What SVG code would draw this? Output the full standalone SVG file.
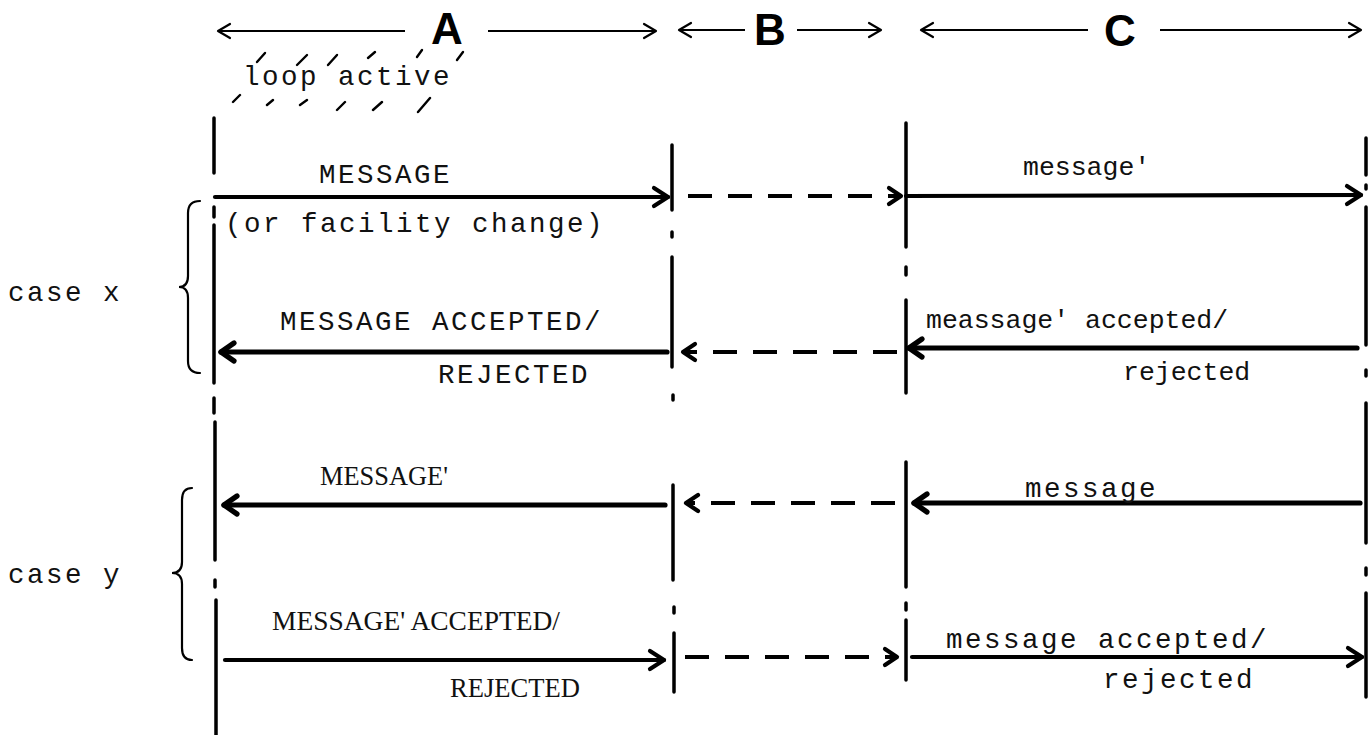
<svg xmlns="http://www.w3.org/2000/svg" width="1370" height="735" viewBox="0 0 1370 735">
  <style>
    .zone { font-family: "Liberation Sans", Arial, sans-serif; font-weight: bold; font-size: 44px; fill: #000; text-anchor: middle; }
    .tw { font-family: "Liberation Mono", "Courier New", monospace; font-size: 27.5px; letter-spacing: 2.5px; fill: #111; }
    .pica { font-family: "Liberation Mono", "Courier New", monospace; font-size: 26.5px; fill: #111; }
    .caps { font-family: "Liberation Serif", "Times New Roman", serif; font-size: 27px; fill: #111; }
    .life { fill: none; stroke: #000; stroke-width: 3.5; stroke-linecap: round; }
    .span { fill: none; stroke: #000; stroke-width: 2.2; marker-end: url(#headThin); }
    .msg { fill: none; stroke: #000; stroke-width: 4.2; stroke-linecap: round; marker-end: url(#head); }
    .ret { fill: none; stroke: #000; stroke-width: 5.2; stroke-linecap: round; marker-end: url(#headBold); }
    .relay { fill: none; stroke: #000; stroke-width: 4.2; stroke-dasharray: 24 16; marker-end: url(#headDash); }
    .hatch { fill: none; stroke: #000; stroke-width: 2.4; stroke-linecap: round; }
    .brace { fill: none; stroke: #000; stroke-width: 2.2; stroke-linecap: round; }
  </style>
  <defs>
    <marker id="headThin" markerUnits="userSpaceOnUse" markerWidth="20" markerHeight="20" refX="0" refY="0" viewBox="-16 -10 20 20" orient="auto" overflow="visible">
      <path d="M-12,-7 L0,0 L-12,7" fill="none" stroke="#000" stroke-width="2.2" stroke-linecap="round" stroke-linejoin="round"/>
    </marker>
    <marker id="head" markerUnits="userSpaceOnUse" markerWidth="22" markerHeight="24" refX="0" refY="0" viewBox="-18 -12 22 24" orient="auto" overflow="visible">
      <path d="M-14,-9 L0,0 L-14,9" fill="none" stroke="#000" stroke-width="4.2" stroke-linecap="round" stroke-linejoin="round"/>
    </marker>
    <marker id="headBold" markerUnits="userSpaceOnUse" markerWidth="22" markerHeight="24" refX="0" refY="0" viewBox="-18 -12 22 24" orient="auto" overflow="visible">
      <path d="M-13,-9 L0,0 L-13,9" fill="none" stroke="#000" stroke-width="5.2" stroke-linecap="round" stroke-linejoin="round"/>
    </marker>
    <marker id="headDash" markerUnits="userSpaceOnUse" markerWidth="20" markerHeight="20" refX="0" refY="0" viewBox="-16 -10 20 20" orient="auto" overflow="visible">
      <path d="M-12,-8 L0,0 L-12,8" fill="none" stroke="#000" stroke-width="4.2" stroke-dasharray="none" stroke-linecap="round" stroke-linejoin="round"/>
    </marker>
  </defs>

  <rect width="1370" height="735" fill="#fff"/>

  <!-- section headings with their extent arrows -->
  <g id="zone-A">
    <line class="span" x1="405" y1="31" x2="218" y2="31"/>
    <text class="zone" x="447" y="44">A</text>
    <line class="span" x1="488" y1="31" x2="656" y2="31"/>
  </g>
  <g id="zone-B">
    <line class="span" x1="745" y1="30" x2="679" y2="30"/>
    <text class="zone" x="770" y="45">B</text>
    <line class="span" x1="797" y1="30" x2="881" y2="30"/>
  </g>
  <g id="zone-C">
    <line class="span" x1="1088" y1="30" x2="921" y2="30"/>
    <text class="zone" x="1120" y="46">C</text>
    <line class="span" x1="1160" y1="30" x2="1361" y2="30"/>
  </g>

  <!-- shaded "loop active" note -->
  <g id="loop-active">
    <path class="hatch" d="M257,62 L265,53 M297,65 L307,55 M328,65 L337,55 M368,58 L375,52 M417,57 L422,50 M457,60 L463,52"/>
    <path class="hatch" d="M233,102 L240,95 M267,105 L273,100 M300,105 L307,100 M337,110 L345,102 M373,110 L382,102 M418,112 L430,98"/>
    <text class="tw" x="243" y="85">loop active</text>
  </g>

  <!-- lifelines -->
  <g id="line-A">
    <path class="life" d="M214,118 V173 M214,207 V217 M214,225 V383 M214,398 V413 M215,422 V560 M215,580 V587 M216,600 V735"/>
  </g>
  <g id="line-B">
    <path class="life" d="M672,145 V210 M672,232 V237 M672,257 V367 M673,395 V400 M673,485 V580 M674,607 V613 M674,633 V692"/>
  </g>
  <g id="line-C-left">
    <path class="life" d="M906,123 V247 M906,267 V275 M906,300 V393 M906,462 V587 M906,603 V610 M906,620 V680"/>
  </g>
  <g id="line-C-right">
    <path class="life" d="M1366,138 V175 M1366,185 V189 M1366,207 V345 M1366,370 V376 M1366,403 V543 M1366,568 V575 M1366,593 V697"/>
  </g>

  <!-- case brackets -->
  <g id="case-x">
    <path class="brace" d="M200,201 Q188,201 188,213 V276 Q188,287 179,287 Q188,287 188,298 V361 Q188,373 200,373"/>
    <text class="tw" x="8" y="301">case x</text>
  </g>
  <g id="case-y">
    <path class="brace" d="M192,488 Q182,488 182,500 V562 Q182,573 172,573 Q182,573 182,584 V648 Q182,660 192,660"/>
    <text class="tw" x="8" y="583">case y</text>
  </g>

  <!-- message flows -->
  <g id="connectors">
    <!-- case x: request -->
    <line class="msg" x1="215" y1="197" x2="668" y2="197"/>
    <line class="relay" x1="688" y1="196" x2="901" y2="196"/>
    <line class="msg" x1="906" y1="196" x2="1361" y2="195"/>
    <!-- case x: response -->
    <line class="ret" x1="1357" y1="348" x2="909" y2="348"/>
    <line class="relay" x1="897" y1="352" x2="683" y2="352"/>
    <line class="ret" x1="667" y1="352" x2="221" y2="352"/>
    <!-- case y: request -->
    <line class="ret" x1="1360" y1="503" x2="914" y2="503"/>
    <line class="relay" x1="895" y1="503" x2="686" y2="503"/>
    <line class="ret" x1="665" y1="505" x2="224" y2="505"/>
    <!-- case y: response -->
    <line class="msg" x1="225" y1="660" x2="664" y2="660"/>
    <line class="relay" x1="685" y1="657" x2="897" y2="657"/>
    <line class="msg" x1="912" y1="657" x2="1362" y2="657"/>
  </g>

  <!-- flow labels -->
  <g id="labels">
    <text class="tw" x="319" y="183">MESSAGE</text>
    <text class="tw" x="225" y="232">(or facility change)</text>
    <text class="pica" x="1023" y="175">message'</text>
    <text class="tw" x="280" y="330">MESSAGE ACCEPTED/</text>
    <text class="tw" x="438" y="383">REJECTED</text>
    <text class="pica" x="926" y="328">meassage' accepted/</text>
    <text class="pica" x="1123" y="380">rejected</text>
    <text class="caps" x="320" y="485" textLength="128" lengthAdjust="spacingAndGlyphs">MESSAGE'</text>
    <text class="tw" x="1025" y="497">message</text>
    <text class="caps" x="272" y="630" textLength="288" lengthAdjust="spacingAndGlyphs">MESSAGE' ACCEPTED/</text>
    <text class="caps" x="450" y="697" textLength="130" lengthAdjust="spacingAndGlyphs">REJECTED</text>
    <text class="tw" x="946" y="648">message accepted/</text>
    <text class="tw" x="1103" y="688">rejected</text>
  </g>
</svg>
